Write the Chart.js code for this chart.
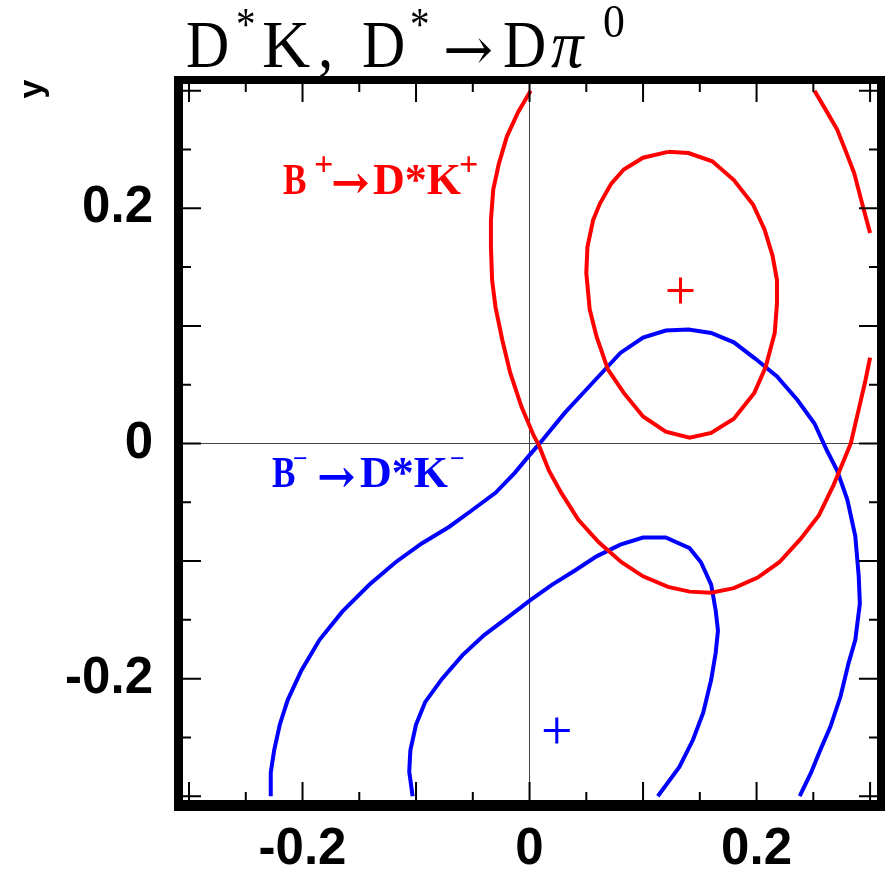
<!DOCTYPE html>
<html>
<head>
<meta charset="utf-8">
<script src="https://cdn.jsdelivr.net/npm/chart.js@4.4.1/dist/chart.umd.min.js"></script>
<style>
  html, body { margin: 0; padding: 0; background: #fff; }
  #wrap { width: 893px; height: 872px; }
</style>
</head>
<body>
<div id="wrap"><canvas id="cont" width="893" height="872"></canvas></div>
<script>
// B+ -> D*K+ contours (red)
const bPlusOuterX = [0.001, -0.010, -0.020, -0.027, -0.032, -0.034, -0.034, -0.033, -0.030, -0.024, -0.017, -0.007, 0.004, 0.008, 0.017, 0.028, 0.043, 0.061, 0.081, 0.100, 0.122, 0.141, 0.160, 0.180, 0.201, 0.220, 0.239, 0.255, 0.268, 0.283, 0.290, 0.296, 0.300];
const bPlusOuterY = [0.300, 0.282, 0.261, 0.238, 0.216, 0.190, 0.167, 0.139, 0.116, 0.088, 0.060, 0.031, 0.006, -0.001, -0.023, -0.042, -0.065, -0.084, -0.101, -0.113, -0.122, -0.126, -0.127, -0.123, -0.114, -0.101, -0.081, -0.061, -0.035, 0.000, 0.029, 0.054, 0.073];
const bPlusEdgeX = [0.251, 0.262, 0.271, 0.278, 0.286, 0.293, 0.300];
const bPlusEdgeY = [0.300, 0.282, 0.267, 0.250, 0.230, 0.204, 0.179];
const bPlusInnerX = [0.122, 0.140, 0.161, 0.180, 0.197, 0.207, 0.214, 0.218, 0.218, 0.216, 0.208, 0.198, 0.180, 0.160, 0.141, 0.120, 0.100, 0.083, 0.069, 0.059, 0.053, 0.050, 0.051, 0.056, 0.062, 0.072, 0.083, 0.100, 0.122];
const bPlusInnerY = [0.248, 0.247, 0.240, 0.224, 0.203, 0.182, 0.160, 0.139, 0.119, 0.094, 0.065, 0.043, 0.021, 0.009, 0.005, 0.010, 0.023, 0.043, 0.063, 0.091, 0.114, 0.145, 0.167, 0.190, 0.204, 0.221, 0.233, 0.243, 0.248];
const bPlusBest = [0.133, 0.130];

// B- -> D*K- contours (blue)
const bMinusOuterX = [-0.228, -0.228, -0.225, -0.220, -0.213, -0.201, -0.185, -0.165, -0.141, -0.118, -0.095, -0.071, -0.051, -0.030, -0.013, -0.001, 0.008, 0.031, 0.055, 0.080, 0.100, 0.120, 0.140, 0.160, 0.180, 0.199, 0.218, 0.236, 0.251, 0.262, 0.271, 0.280, 0.287, 0.290, 0.291, 0.287, 0.281, 0.274, 0.265, 0.256, 0.248, 0.238];
const bMinusOuterY = [-0.300, -0.280, -0.261, -0.239, -0.218, -0.193, -0.167, -0.143, -0.120, -0.101, -0.085, -0.071, -0.057, -0.042, -0.025, -0.011, -0.001, 0.026, 0.051, 0.077, 0.090, 0.096, 0.097, 0.094, 0.086, 0.072, 0.057, 0.037, 0.017, -0.006, -0.023, -0.048, -0.079, -0.113, -0.136, -0.167, -0.187, -0.215, -0.241, -0.261, -0.280, -0.300];
const bMinusInnerX = [-0.103, -0.106, -0.105, -0.100, -0.092, -0.077, -0.059, -0.040, -0.018, 0.001, 0.020, 0.040, 0.059, 0.080, 0.100, 0.120, 0.141, 0.151, 0.160, 0.164, 0.166, 0.164, 0.160, 0.153, 0.144, 0.132, 0.113];
const bMinusInnerY = [-0.300, -0.279, -0.261, -0.239, -0.220, -0.200, -0.180, -0.163, -0.147, -0.133, -0.120, -0.108, -0.096, -0.086, -0.080, -0.080, -0.089, -0.101, -0.120, -0.142, -0.159, -0.178, -0.201, -0.229, -0.252, -0.275, -0.300];
const bMinusBest = [0.024, -0.244];

// axis ticks: every 0.05, labels on every 0.2
const tickVals = [-0.3, -0.25, -0.2, -0.15, -0.1, -0.05, 0, 0.05, 0.1, 0.15, 0.2, 0.25, 0.3];
const labelVals = [-0.2, 0, 0.2];

const RED = '#ff0000';
const BLUE = '#0000ff';

function zip(xs, ys) {
  return xs.map((x, i) => ({ x: x, y: ys[i] }));
}

function near(a, b) {
  return Math.abs(a - b) < 1e-9;
}

function isMajor(v) {
  return Math.abs(v * 10 - Math.round(v * 10)) < 1e-6;
}

function contour(data, color) {
  return {
    data: data,
    showLine: true,
    borderColor: color,
    borderWidth: 4,
    pointRadius: 0,
    tension: 0,
    fill: false
  };
}

function bestPoint(p, color) {
  return {
    data: [{ x: p[0], y: p[1] }],
    showLine: false,
    pointStyle: 'cross',
    pointRadius: 13,
    borderColor: color,
    borderWidth: 3
  };
}

// thick frame with inward ticks on all four sides
const frameTicks = {
  id: 'frameTicks',
  afterDatasetsDraw(chart) {
    const { ctx, chartArea: a, scales: { x, y } } = chart;
    ctx.save();
    ctx.strokeStyle = '#000';
    ctx.lineWidth = 2;
    ctx.beginPath();
    tickVals.forEach(v => {
      const len = isMajor(v) ? 18 : 8;
      const px = x.getPixelForValue(v);
      const py = y.getPixelForValue(v);
      ctx.moveTo(px, a.bottom); ctx.lineTo(px, a.bottom - len);
      ctx.moveTo(px, a.top); ctx.lineTo(px, a.top + len);
      ctx.moveTo(a.left, py); ctx.lineTo(a.left + len, py);
      ctx.moveTo(a.right, py); ctx.lineTo(a.right - len, py);
    });
    ctx.stroke();
    ctx.fillStyle = '#000';
    ctx.fillRect(a.left - 9, a.top - 8, 9, a.bottom - a.top + 19);
    ctx.fillRect(a.right, a.top - 8, 8, a.bottom - a.top + 19);
    ctx.fillRect(a.left - 9, a.top - 8, a.right - a.left + 17, 8);
    ctx.fillRect(a.left - 9, a.bottom, a.right - a.left + 17, 11);
    ctx.restore();
  }
};

// each piece: text, x, baseline y, font, optional colour and horizontal squeeze
function drawPieces(ctx, pieces) {
  pieces.forEach(p => {
    ctx.save();
    ctx.translate(p.x, p.y);
    ctx.scale(p.sx || 1, 1);
    ctx.font = p.font;
    ctx.fillStyle = p.color || '#000';
    ctx.textAlign = 'left';
    ctx.textBaseline = 'alphabetic';
    ctx.fillText(p.t, 0, 0);
    ctx.restore();
  });
}

// title, y axis name and the two channel labels
const annotations = {
  id: 'annotations',
  afterDraw(chart) {
    const ctx = chart.ctx;
    const big = '68px "Liberation Serif"';
    const sup = '46px "Liberation Serif"';
    const arr = '60px "DejaVu Serif"';
    drawPieces(ctx, [
      { t: 'D', x: 186, y: 67, font: big, sx: 0.88 },
      { t: '*', x: 236, y: 40, font: sup, sx: 0.85 },
      { t: 'K', x: 262, y: 67, font: big, sx: 0.98 },
      { t: ',', x: 318, y: 67, font: big, sx: 0.9 },
      { t: 'D', x: 362, y: 67, font: big, sx: 0.88 },
      { t: '*', x: 410, y: 40, font: sup, sx: 0.85 },
      { t: '\u2192', x: 443, y: 70, font: arr },
      { t: 'D', x: 503, y: 67, font: big, sx: 0.88 },
      { t: '\u03c0', x: 551, y: 67, font: 'italic ' + big, sx: 0.95 },
      { t: '0', x: 603, y: 37, font: sup, sx: 0.95 }
    ]);

    ctx.save();
    ctx.translate(33, 89);
    ctx.rotate(-Math.PI / 2);
    ctx.font = 'bold 34px "Liberation Sans"';
    ctx.fillStyle = '#000';
    ctx.textAlign = 'center';
    ctx.textBaseline = 'middle';
    ctx.fillText('y', 0, 0);
    ctx.restore();

    const lab = 'bold 44px "Liberation Serif"';
    const labSup = 'bold 34px "Liberation Serif"';
    const labArr = 'bold 46px "DejaVu Serif"';
    const labMinus = 'bold 26px "Liberation Serif"';
    drawPieces(ctx, [
      { t: 'B', x: 283, y: 194, font: lab, color: RED, sx: 0.8 },
      { t: '+', x: 314, y: 175, font: labSup, color: RED },
      { t: '\u2192', x: 331, y: 198, font: labArr, color: RED },
      { t: 'D*K', x: 373, y: 194, font: lab, color: RED },
      { t: '+', x: 459, y: 175, font: labSup, color: RED },
      { t: 'B', x: 272, y: 487, font: lab, color: BLUE, sx: 0.8 },
      { t: '\u2212', x: 293, y: 467, font: labMinus, color: BLUE },
      { t: '\u2192', x: 317, y: 492, font: labArr, color: BLUE },
      { t: 'D*K', x: 360, y: 487, font: lab, color: BLUE },
      { t: '\u2212', x: 450, y: 467, font: labMinus, color: BLUE }
    ]);
  }
};

const tickFont = { family: '"Liberation Sans", Arial, sans-serif', size: 51, weight: 'bold' };

function axis(min, max, extra) {
  return Object.assign({
    type: 'linear',
    min: min,
    max: max,
    afterBuildTicks: s => { s.ticks = tickVals.map(v => ({ value: v })); },
    border: { display: false },
    grid: {
      drawTicks: false,
      lineWidth: 1,
      color: c => (c.tick && near(c.tick.value, 0)) ? '#444' : 'rgba(0,0,0,0)'
    },
    ticks: {
      autoSkip: false,
      maxRotation: 0,
      color: '#000',
      font: tickFont,
      callback: v => labelVals.some(l => near(l, v)) ? (near(v, 0) ? '0' : v.toFixed(1)) : ''
    }
  }, extra);
}

const xScale = axis(-0.3053, 0.3061, { position: 'bottom', afterFit: s => { s.height = 72; } });
xScale.ticks.padding = 19;
const yScale = axis(-0.3032, 0.3057, { position: 'left', afterFit: s => { s.width = 183; } });
yScale.ticks.padding = 30;

new Chart(document.getElementById('cont'), {
  type: 'scatter',
  data: {
    datasets: [
      contour(zip(bPlusInnerX, bPlusInnerY), RED),
      contour(zip(bPlusOuterX, bPlusOuterY), RED),
      contour(zip(bPlusEdgeX, bPlusEdgeY), RED),
      bestPoint(bPlusBest, RED),
      contour(zip(bMinusOuterX, bMinusOuterY), BLUE),
      contour(zip(bMinusInnerX, bMinusInnerY), BLUE),
      bestPoint(bMinusBest, BLUE)
    ]
  },
  options: {
    responsive: false,
    animation: false,
    devicePixelRatio: 1,
    layout: { padding: { top: 84, right: 13, left: 0, bottom: 0 } },
    plugins: {
      legend: { display: false },
      tooltip: { enabled: false }
    },
    scales: { x: xScale, y: yScale }
  },
  plugins: [frameTicks, annotations]
});
</script>
</body>
</html>
